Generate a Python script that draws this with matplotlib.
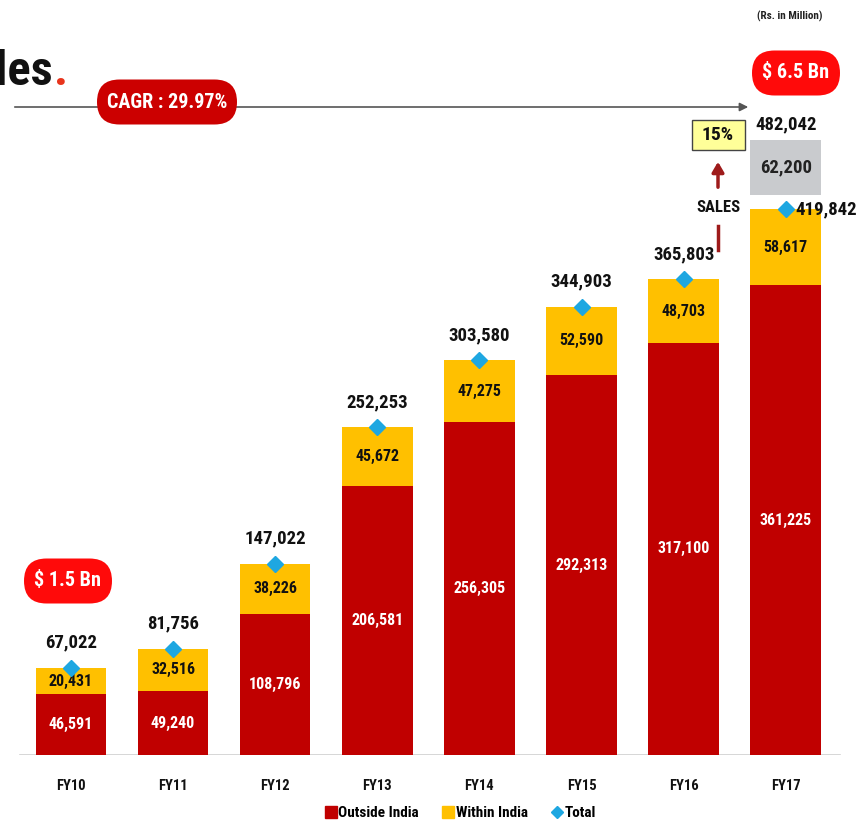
import matplotlib
matplotlib.use("Agg")
import matplotlib.pyplot as plt
from matplotlib import font_manager as fm
from matplotlib.patches import FancyBboxPatch, FancyArrowPatch, Rectangle
from matplotlib.lines import Line2D

years = ["FY10", "FY11", "FY12", "FY13", "FY14", "FY15", "FY16", "FY17"]
outside_india = [46591, 49240, 108796, 206581, 256305, 292313, 317100, 361225]
within_india = [20431, 32516, 38226, 45672, 47275, 52590, 48703, 58617]
total = [67022, 81756, 147022, 252253, 303580, 344903, 365803, 419842]
projected_extra = 62200
projected_total = 482042

RED = "#c00000"
YEL = "#ffc000"
BLUE = "#1ea7e1"
GRAY = "#c9cbce"
PILL_DARK = "#cc0000"
PILL_BRIGHT = "#ff0a0a"

cands = ["Roboto Condensed", "Archivo Narrow", "Liberation Sans Narrow", "Oswald", "Roboto"]
avail = {f.name for f in fm.fontManager.ttflist}
FONT = next((c for c in cands if c in avail), "DejaVu Sans")
plt.rcParams["font.family"] = [FONT, "DejaVu Sans"]
plt.rcParams["font.weight"] = "bold"

W, H = 865, 824
fig = plt.figure(figsize=(W / 100, H / 100), dpi=100)
fig.patch.set_facecolor("white")

base_px = 755
ax = fig.add_axes([0, (H - base_px) / H, 1, base_px / H])
scale = 1.30 / 1000  # px per unit
ax.set_ylim(0, base_px / scale)
ax.set_xlim(-71 / 102.1, (W - 71) / 102.1)
ax.axis("off")

x = list(range(len(years)))
bw = 0.69
ax.bar(x, outside_india, width=bw, color=RED, zorder=2)
ax.bar(x, within_india, width=bw, bottom=outside_india, color=YEL, zorder=2)
ax.axhline(0, xmin=20 / W, xmax=840 / W, color="#d0d0d0", lw=1.2, zorder=1)

# projected grey box for FY17
pad_lo, pad_hi = 11000, 9000
ax.bar([x[-1]], [projected_total - total[-1] - pad_lo - pad_hi], width=bw,
       bottom=[total[-1] + pad_lo], color=GRAY, zorder=2)
ax.text(x[-1], total[-1] + (projected_total - total[-1]) / 2 + 1000,
        f"{projected_extra:,}", ha="center", va="center", fontsize=13.5,
        color="#222222", fontweight="bold", zorder=4)
ax.annotate(f"{projected_total:,}", (x[-1], projected_total), xytext=(0, 3),
            textcoords="offset points", ha="center", va="center", fontsize=13.5,
            fontweight="bold", color="#111111")

for i in x:
    ax.text(i, outside_india[i] / 2, f"{outside_india[i]:,}", ha="center", va="center",
            color="white", fontsize=11.5, fontweight="bold", zorder=4)
    ax.text(i, outside_india[i] + within_india[i] / 2, f"{within_india[i]:,}",
            ha="center", va="center", color="#111111", fontsize=11.5,
            fontweight="bold", zorder=4)
    ax.text(i, -24000, years[i], ha="center", va="center", fontsize=10.5,
            fontweight="bold", color="#111111")

ax.plot(x, total, linestyle="none", marker="D", markersize=8, color=BLUE, zorder=5)
for i in x[:-1]:
    ax.annotate(f"{total[i]:,}", (i, total[i]), xytext=(0, 18), textcoords="offset points",
                ha="center", va="center", fontsize=13.5, fontweight="bold", color="#111111")
ax.annotate(f"{total[-1]:,}", (x[-1], total[-1]), xytext=(7, 0), textcoords="offset points",
            ha="left", va="center", fontsize=13.5, fontweight="bold", color="#111111")

# ---- decorations in pixel space ----
def inch(px, py):
    return px / 100, (H - py) / 100

def pill(cx, cy, w, h, color, text, fs):
    x0, y0 = inch(cx - w / 2, cy + h / 2)
    p = FancyBboxPatch((x0, y0), w / 100, h / 100,
                       boxstyle=f"round,pad=0,rounding_size={h / 200:.3f}",
                       transform=fig.dpi_scale_trans, facecolor=color,
                       edgecolor="none", zorder=10)
    fig.add_artist(p)
    fig.text(cx / W, 1 - cy / H, text, ha="center", va="center", color="white",
             fontsize=fs, fontweight="bold", zorder=11)

# title fragment
fig.text(53 / W, 1 - 72 / H, "Sales", ha="right", va="center", fontsize=35,
         fontweight="heavy", color="#111111")
fig.text(54 / W, 1 - 72 / H, ".", ha="left", va="center", fontsize=35,
         fontweight="heavy", color="#e8341c")

# CAGR arrow line
fig.add_artist(FancyArrowPatch(
    inch(12, 107), inch(751, 107), transform=fig.dpi_scale_trans,
    arrowstyle="-|>,head_length=5,head_width=2.5", color="#555555", lw=1.2, zorder=9))
pill(167, 102, 140, 45, PILL_DARK, "CAGR : 29.97%", 14.5)
pill(796, 73, 88, 45, PILL_BRIGHT, "$ 6.5 Bn", 14.5)
pill(68, 581, 88, 45, PILL_BRIGHT, "$ 1.5 Bn", 14.5)

fig.text(790 / W, 1 - 16 / H, "(Rs. in Million)", ha="center", va="center",
         fontsize=8, fontweight="bold", color="#222222")

# 15% box and sales arrow
bx0, by0 = inch(692, 150)
fig.add_artist(Rectangle((bx0, by0), 53 / 100, 30 / 100, transform=fig.dpi_scale_trans,
                         facecolor="#ffff99", edgecolor="#444444", lw=1, zorder=10))
fig.text(718 / W, 1 - 135 / H, "15%", ha="center", va="center", fontsize=14,
         fontweight="bold", color="#111111", zorder=11)
fig.add_artist(FancyArrowPatch(
    inch(718, 190), inch(718, 159), transform=fig.dpi_scale_trans,
    arrowstyle="-|>,head_length=6,head_width=3.5", color="#9e1b1b", lw=2.5, zorder=9))
fig.add_artist(Line2D([718 / W, 718 / W], [1 - 226 / H, 1 - 250 / H], color="#9e1b1b",
                      lw=2.5, transform=fig.transFigure))
fig.text(718 / W, 1 - 208 / H, "SALES", ha="center", va="center", fontsize=12,
         fontweight="bold", color="#111111")

# legend
handles = [Line2D([], [], linestyle="none", marker="s", markersize=9, color=RED),
           Line2D([], [], linestyle="none", marker="s", markersize=9, color=YEL),
           Line2D([], [], linestyle="none", marker="D", markersize=6, color=BLUE)]
fig.legend(handles, ["Outside India", "Within India", "Total"], loc="center",
           bbox_to_anchor=(461 / W, 1 - 813 / H), ncol=3, frameon=False,
           handlelength=0.6, handletextpad=0.2, columnspacing=1.6,
           prop={"weight": "bold", "size": 11})

fig.savefig("out.png", dpi=100, facecolor="white")
